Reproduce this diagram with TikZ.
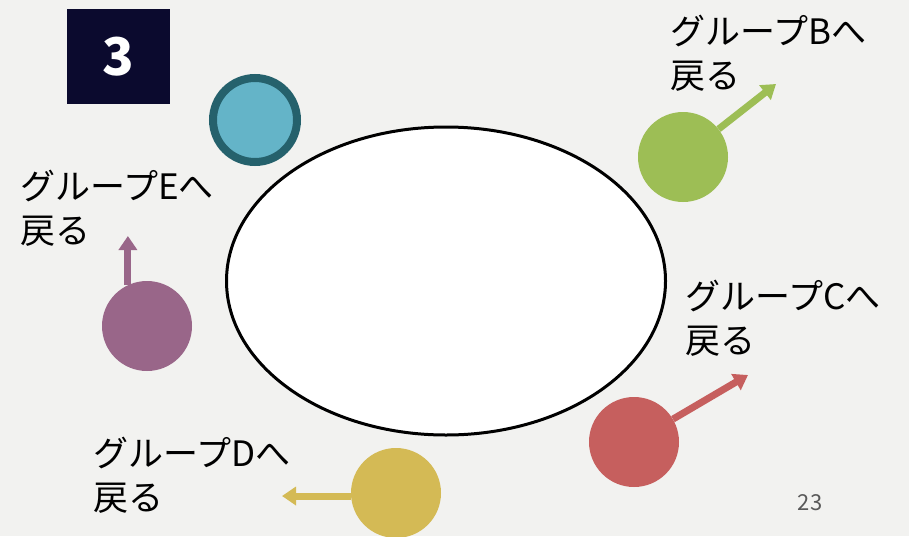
\documentclass[tikz,border=0pt]{standalone}
\usepackage{fontspec}
\setmainfont{Noto Sans CJK JP}
\newfontfamily\jpfont{Noto Sans CJK JP}
\usetikzlibrary{arrows.meta,shapes.geometric}
\definecolor{bgc}{HTML}{F2F2F0}
\definecolor{boxc}{HTML}{0B0A2E}
\definecolor{tealfill}{HTML}{64B4C8}
\definecolor{tealline}{HTML}{25616C}
\definecolor{greenc}{HTML}{9DBE55}
\definecolor{redc}{HTML}{C65F5E}
\definecolor{goldc}{HTML}{D4BA55}
\definecolor{purplec}{HTML}{996689}
\definecolor{numc}{HTML}{595959}
\tikzset{
  dot/.style={circle, inner sep=0pt, minimum size=90pt},
  back/.style={line width=7pt, -{Triangle[length=14pt,width=18pt]}},
  lbl/.style={anchor=base west, align=left, inner sep=0pt, font=\jpfont\fontsize{35}{44}\selectfont}
}
\begin{document}
\begin{tikzpicture}[x=1pt,y=-1pt]
\fill[bgc] (0,0) rectangle (909,536);
\useasboundingbox (0,0) rectangle (909,536);
\node[fill=boxc, minimum width=103pt, minimum height=95pt, inner sep=0pt, text=white, font=\jpfont\bfseries\fontsize{52}{52}\selectfont] (num) at (118.5,56.5) {3};
\node[draw=black, line width=3pt, fill=white, ellipse, minimum width=439pt, minimum height=308pt, inner sep=0pt] (ell) at (446,281) {};
\node[dot, fill=tealfill, draw=tealline, line width=8pt, minimum size=84pt] (t) at (255,120) {};
\node[dot, fill=greenc] (g) at (683,157) {};
\node[dot, fill=redc] (r) at (634,442) {};
\node[dot, fill=goldc] (d) at (396,493) {};
\node[dot, fill=purplec] (p) at (147,326) {};
\coordinate (ge) at (776,84);
\coordinate (re) at (748,375);
\coordinate (de) at (282,496);
\coordinate (pe) at (128,236);
\draw[back, greenc] (g) -- (ge);
\draw[back, redc] (r) -- (re);
\draw[back, goldc] (d.west |- de) -- (de);
\draw[back, purplec] (p.115) -- (p.115 |- pe);
\node[lbl] (lb) at (670,88) {グループBへ\\戻る};
\node[lbl] (lc) at (685,353) {グループCへ\\戻る};
\node[lbl] (ld) at (93,510) {グループDへ\\戻る};
\node[lbl] (le) at (20,243) {グループEへ\\戻る};
\node[text=numc, font=\jpfont\fontsize{22}{22}\selectfont, inner sep=0pt] (pg) at (810,503) {23};
\end{tikzpicture}
\end{document}
